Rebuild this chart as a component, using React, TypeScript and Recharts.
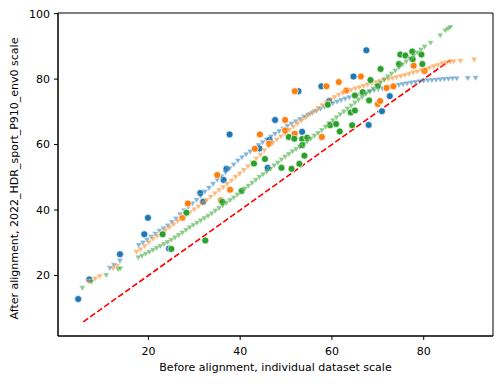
import { ScatterChart, Scatter, XAxis, YAxis, ReferenceLine, ReferenceArea } from "recharts";

// axis setup
const X_DOMAIN = [0.3, 95.1];
const Y_DOMAIN = [1.5, 100.2];
const X_TICKS = [20, 40, 60, 80];
const Y_TICKS = [20, 40, 60, 80, 100];
const X_TITLE = "Before alignment, individual dataset scale";
const Y_TITLE = "After alignment, 2022_HDR_sport_P910_env0 scale";

// y = x reference, from / to
const diagonal = [5.8, 85.8];

// full circles (individual datasets)
const blueDots = [
  [4.7, 12.8], [7.1, 18.8], [13.8, 26.5], [19.1, 32.6], [19.9, 37.6], [24.5, 28.2],
  [31.3, 45.2], [31.9, 42.5], [36.4, 49.2], [37.0, 52.6], [37.7, 63.1], [44.2, 58.8],
  [46.0, 52.9], [46.4, 61.5], [47.6, 67.5], [52.7, 76.3], [53.5, 63.9], [57.7, 77.8],
  [59.4, 73.3], [64.7, 80.8], [67.5, 88.8], [68.0, 66.0], [70.9, 70.2], [72.6, 74.8],
];
const orangeDots = [
  [27.4, 37.6], [28.6, 42.0], [35.0, 50.7], [35.8, 43.0], [37.8, 46.2], [43.2, 58.7],
  [44.3, 63.1], [46.3, 60.3], [49.8, 67.5], [49.8, 64.3], [51.9, 63.3], [51.9, 76.3],
  [57.8, 62.3], [58.8, 77.8], [61.5, 79.1], [63.1, 76.5], [66.3, 80.8], [70.0, 72.4],
  [70.5, 73.3], [71.9, 77.3], [73.4, 77.8], [77.8, 84.1], [80.2, 82.5],
];
const greenDots = [
  [23.1, 32.6], [25.0, 28.1], [28.3, 39.2], [32.4, 30.7], [36.1, 42.5], [40.3, 45.8],
  [43.0, 54.2], [45.4, 55.6], [49.0, 52.9], [50.6, 62.3], [51.2, 52.6], [51.8, 61.8],
  [52.9, 54.1], [53.5, 61.7], [53.5, 59.8], [54.0, 56.6], [54.6, 62.1], [59.1, 72.2],
  [59.6, 65.9], [60.9, 66.3], [61.7, 64.0], [64.4, 65.9], [64.1, 69.8], [65.0, 70.4],
  [65.0, 75.0], [66.7, 76.0], [68.1, 73.5], [68.4, 79.7], [70.0, 77.9], [70.6, 83.1],
  [74.6, 84.6], [74.9, 87.5], [76.0, 87.2], [77.5, 88.4], [77.6, 86.1], [79.5, 87.5],
  [79.7, 84.6],
];

// down triangles (aligned curves)
const blueTri = [
  [7.3, 18.4], [11.6, 22.4], [12.5, 23.3], [13.8, 24.6],
  [17.9, 29.4], [18.8, 30.1], [19.7, 31.0], [20.6, 31.9], [21.5, 32.8], [22.4, 33.7],
  [23.3, 34.5], [24.2, 35.3], [25.1, 36.4], [26.0, 37.5], [26.9, 38.8], [27.8, 40.0],
  [28.7, 41.1], [29.6, 42.1], [30.5, 43.2], [31.4, 44.5], [32.3, 45.7], [33.2, 46.9],
  [34.1, 48.1], [35.0, 49.3], [35.9, 50.4], [36.8, 51.6], [37.7, 52.8], [38.6, 54.0],
  [39.5, 55.2], [40.4, 56.2], [41.3, 57.1], [42.2, 58.0], [43.1, 59.0], [44.0, 59.9],
  [44.9, 60.8], [45.8, 61.6], [46.7, 62.5], [47.6, 63.4], [48.5, 64.2], [49.4, 65.0],
  [50.3, 65.8], [51.2, 66.5], [52.1, 67.2], [53.0, 67.9], [53.9, 68.6], [54.8, 69.2],
  [55.7, 69.8], [56.6, 70.4], [57.5, 71.0], [58.4, 71.6], [59.3, 72.2], [60.2, 72.7],
  [61.1, 73.2], [62.0, 73.7], [62.9, 74.1], [63.8, 74.5], [64.7, 74.9], [65.6, 75.3],
  [66.5, 75.7], [67.4, 76.0], [68.3, 76.4], [69.2, 76.7], [70.1, 77.0], [71.0, 77.3],
  [71.9, 77.6], [72.8, 77.8], [73.7, 78.1], [74.6, 78.3], [75.5, 78.6], [76.4, 78.8],
  [77.3, 79.0], [78.2, 79.2], [79.1, 79.4], [80.0, 79.6], [80.9, 79.7], [81.8, 79.8],
  [82.7, 79.9], [83.6, 80.0], [84.5, 80.1], [85.4, 80.2], [86.3, 80.3], [87.2, 80.3],
  [89.6, 80.4], [91.3, 80.5],
];
const orangeTri = [
  [7.0, 18.3], [8.4, 19.1], [9.4, 19.9], [12.3, 22.3], [13.2, 23.1],
  [17.4, 27.3], [18.3, 28.1], [19.2, 29.1], [20.1, 30.2], [21.0, 31.3], [21.9, 32.1],
  [22.8, 33.0], [23.7, 33.9], [24.6, 34.8], [25.5, 35.7], [26.4, 36.7], [27.3, 37.7],
  [28.2, 38.6], [29.1, 39.4], [30.0, 40.3], [30.9, 41.2], [31.8, 42.2], [32.7, 43.1],
  [33.6, 44.1], [34.5, 45.2], [35.4, 46.2], [36.3, 47.1], [37.2, 48.1], [38.1, 49.1],
  [39.0, 50.2], [39.9, 51.2], [40.8, 52.3], [41.7, 53.4], [42.6, 54.6], [43.5, 55.8],
  [44.4, 57.0], [45.3, 58.3], [46.2, 59.6], [47.1, 60.6], [48.0, 61.6], [48.9, 62.6],
  [49.8, 63.6], [50.7, 64.6], [51.6, 65.6], [52.5, 66.5], [53.4, 67.5], [54.3, 68.4],
  [55.2, 69.4], [56.1, 70.3], [57.0, 71.2], [57.9, 72.1], [58.8, 73.0], [59.7, 73.8],
  [60.6, 74.6], [61.5, 75.3], [62.4, 75.9], [63.3, 76.4], [64.2, 76.8], [65.1, 77.2],
  [66.0, 77.6], [66.9, 78.0], [67.8, 78.4], [68.7, 78.8], [69.6, 79.2], [70.5, 79.5],
  [71.4, 79.8], [72.3, 80.1], [73.2, 80.4], [74.1, 80.7], [75.0, 81.0], [75.9, 81.3],
  [76.8, 81.7], [77.7, 82.1], [78.6, 82.4], [79.5, 82.8], [80.4, 83.1], [81.3, 83.5],
  [82.2, 84.0], [83.1, 84.4], [84.0, 84.9], [84.9, 85.1], [85.8, 85.4], [86.5, 85.5],
  [88.0, 85.7], [91.0, 86.1],
];
const greenTri = [
  [5.6, 16.3], [7.6, 18.2], [10.8, 20.2], [13.4, 22.0], [13.9, 22.3],
  [17.8, 25.6], [18.6, 26.1], [19.4, 26.7], [20.2, 27.3], [21.0, 27.9], [21.8, 28.5],
  [22.6, 29.1], [23.4, 29.7], [24.2, 30.3], [25.0, 31.0], [25.8, 31.7], [26.6, 32.4],
  [27.4, 33.2], [28.2, 34.0], [29.0, 34.8], [29.8, 35.5], [30.6, 36.2], [31.4, 36.9],
  [32.2, 37.6], [33.0, 38.3], [33.8, 39.1], [34.6, 39.9], [35.4, 40.7], [36.2, 41.5],
  [37.0, 42.3], [37.8, 43.1], [38.6, 43.9], [39.4, 44.8], [40.2, 45.7], [41.0, 46.6],
  [41.8, 47.5], [42.6, 48.4], [43.4, 49.3], [44.2, 50.2], [45.0, 51.0], [45.8, 51.8],
  [46.6, 52.7], [47.4, 53.7], [48.2, 54.6], [49.0, 55.5], [49.8, 56.4], [50.6, 57.2],
  [51.4, 58.0], [52.2, 58.7], [53.0, 59.4], [53.8, 60.2], [54.6, 61.0], [55.4, 61.9],
  [56.2, 62.8], [57.0, 63.6], [57.8, 64.5], [58.6, 65.5], [59.4, 66.6], [60.2, 67.5],
  [61.0, 68.4], [61.8, 69.3], [62.6, 70.2], [63.4, 71.1], [64.2, 72.0], [65.0, 72.9],
  [65.8, 73.8], [66.6, 74.6], [67.4, 75.5], [68.2, 76.3], [69.0, 77.2], [69.8, 78.1],
  [70.6, 79.0], [71.4, 80.0], [72.2, 80.9], [73.0, 81.8], [73.8, 82.7], [74.6, 83.6],
  [75.4, 84.6], [76.2, 85.5], [77.0, 86.4], [77.8, 87.3], [78.6, 88.2], [79.4, 89.1],
  [80.2, 90.0], [81.5, 91.2], [83.6, 93.5], [84.7, 95.0], [85.3, 95.5], [85.8, 96.0],
];

const BLUE = "#1f77b4";
const ORANGE = "#ff7f0e";
const GREEN = "#2ca02c";
const FONT = "DejaVu Sans";

const toPts = (arr: number[][]) => arr.map(([x, y]) => ({ x, y }));

const dot = (color: string) => (p: any) => (
  <circle cx={p.cx} cy={p.cy} r={3.5} fill={color} stroke="#fff" strokeWidth={0.7} />
);

const tri = (color: string) => (p: any) => (
  <path
    d={`M${p.cx - 3.1},${p.cy - 1.8} L${p.cx + 3.1},${p.cy - 1.8} L${p.cx},${p.cy + 3.5} Z`}
    fill={color}
    stroke="#fff"
    strokeWidth={0.4}
    opacity={0.55}
  />
);

const series = [
  { dots: blueDots, tris: blueTri, color: BLUE },
  { dots: orangeDots, tris: orangeTri, color: ORANGE },
  { dots: greenDots, tris: greenTri, color: GREEN },
];

const tickStyle = { fontSize: 11, fill: "#000", fontFamily: FONT };

export default function App() {
  return (
    <div style={{ position: "absolute", left: 0, top: 0, width: 500, height: 384, background: "#fff" }}>
      <ScatterChart width={500} height={384} margin={{ top: 13, right: 7, bottom: 0, left: 0 }}>
        <XAxis
          type="number"
          dataKey="x"
          domain={X_DOMAIN}
          ticks={X_TICKS}
          allowDataOverflow
          height={48}
          tickSize={4}
          tickMargin={7}
          tick={tickStyle}
          stroke="#000"
          label={{
            content: ({ viewBox }: any) => (
              <text
                x={viewBox.x + viewBox.width / 2}
                y={viewBox.y + 35}
                textAnchor="middle"
                fontSize={11}
                fontFamily={FONT}
                fill="#000"
              >
                {X_TITLE}
              </text>
            ),
          }}
        />
        <YAxis
          type="number"
          dataKey="y"
          domain={Y_DOMAIN}
          ticks={Y_TICKS}
          allowDataOverflow
          width={58}
          tickSize={4}
          tickMargin={4}
          tick={tickStyle}
          stroke="#000"
          label={{
            content: ({ viewBox }: any) => {
              const cx = viewBox.x + 18;
              const cy = viewBox.y + viewBox.height / 2 + 4;
              return (
                <text
                  x={cx}
                  y={cy}
                  transform={`rotate(-90 ${cx} ${cy})`}
                  textAnchor="middle"
                  fontSize={11}
                  fontFamily={FONT}
                  fill="#000"
                >
                  {Y_TITLE}
                </text>
              );
            },
          }}
        />
        {/* matplotlib-style full frame */}
        <ReferenceArea
          x1={X_DOMAIN[0]}
          x2={X_DOMAIN[1]}
          y1={Y_DOMAIN[0]}
          y2={Y_DOMAIN[1]}
          fill="none"
          stroke="#000"
          strokeWidth={1}
          ifOverflow="visible"
        />
        {series.map((s) => [
          <Scatter key={s.color + "d"} data={toPts(s.dots)} shape={dot(s.color)} isAnimationActive={false} />,
          <Scatter key={s.color + "t"} data={toPts(s.tris)} shape={tri(s.color)} isAnimationActive={false} />,
        ])}
        <ReferenceLine
          segment={[
            { x: diagonal[0], y: diagonal[0] },
            { x: diagonal[1], y: diagonal[1] },
          ]}
          stroke="#ff0000"
          strokeWidth={1.6}
          strokeDasharray="6 2.6"
        />
      </ScatterChart>
    </div>
  );
}
